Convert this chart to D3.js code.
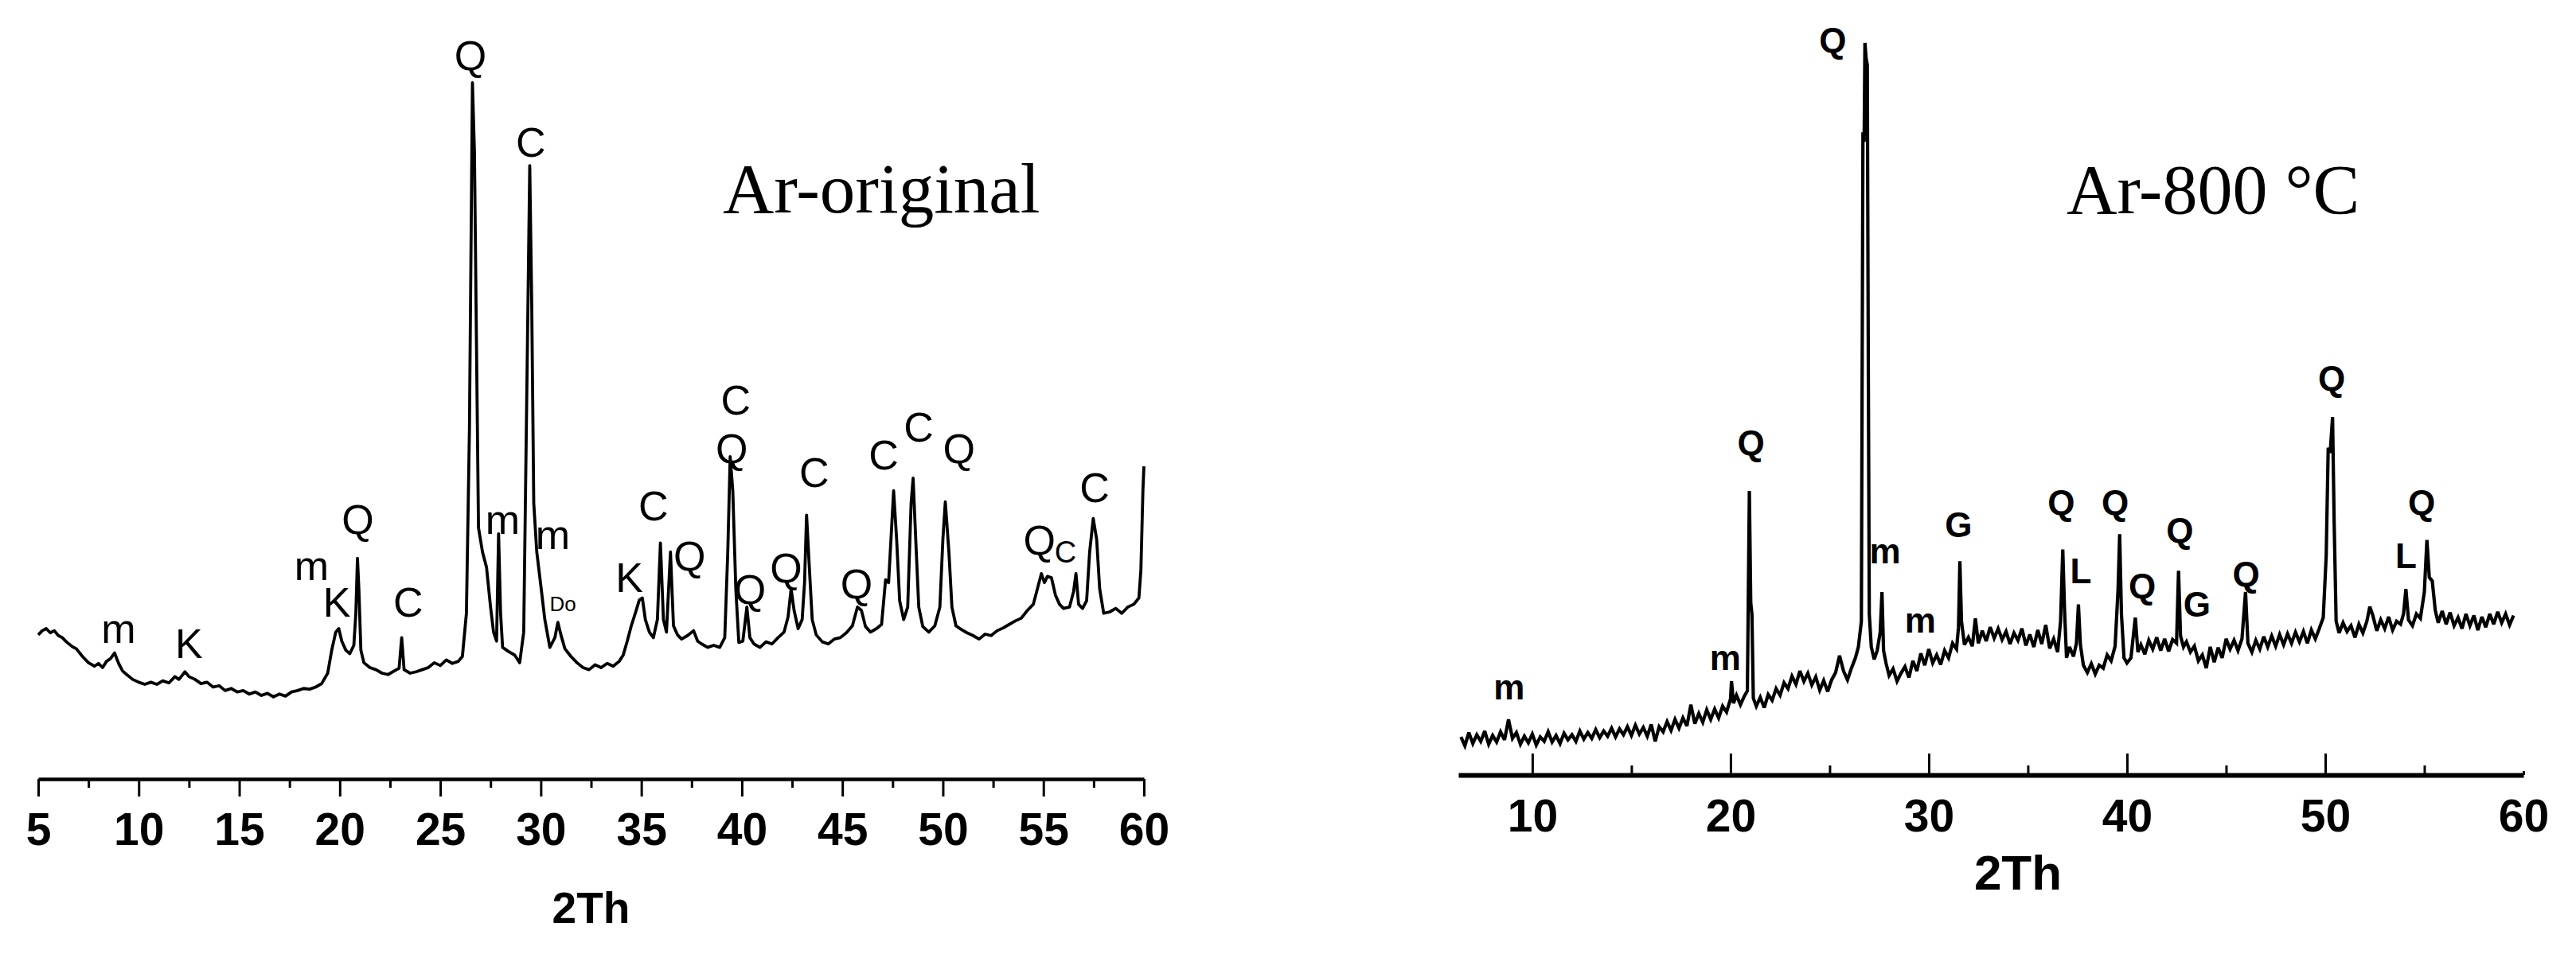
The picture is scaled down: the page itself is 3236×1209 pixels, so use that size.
<!DOCTYPE html>
<html><head><meta charset="utf-8">
<script src="https://cdn.jsdelivr.net/npm/d3@7/dist/d3.min.js"></script>
<style>html,body{margin:0;padding:0;background:#fff;}svg{display:block;}</style>
</head><body>
<script>
// ---------- DATA ----------
// Left pattern: Ar-original  [2theta, intensity (a.u., main peak = 100)]
const leftPattern = [
[5.0,20.7],[5.2,21.3],[5.4,21.6],[5.6,21.0],[5.8,21.3],[6.0,20.6],[6.2,20.3],[6.4,19.7],[6.7,19.0],[6.9,18.7],
[7.2,17.6],[7.5,16.7],[7.8,16.2],[8.0,16.6],[8.2,16.0],[8.4,16.9],[8.6,17.3],[8.8,18.1],[9.0,16.6],[9.2,15.5],
[9.4,15.0],[9.7,14.3],[10.0,13.9],[10.3,13.6],[10.6,13.9],[10.9,13.6],[11.2,14.1],[11.5,13.8],[11.8,14.7],[12.0,14.3],
[12.3,15.4],[12.5,14.7],[12.8,14.3],[13.1,13.7],[13.4,13.9],[13.7,13.2],[14.0,13.4],[14.3,12.7],[14.6,13.0],[14.9,12.5],
[15.2,12.7],[15.5,12.2],[15.8,12.5],[16.1,12.0],[16.4,12.3],[16.7,11.8],[17.0,12.2],[17.3,11.9],[17.6,12.5],[17.9,12.7],
[18.2,13.0],[18.5,12.9],[18.8,13.2],[19.1,13.7],[19.4,15.2],[19.6,18.5],[19.8,21.1],[19.95,21.6],[20.1,19.8],[20.3,18.5],
[20.5,18.0],[20.7,19.2],[20.8,23.8],[20.88,31.7],[20.95,27.3],[21.05,18.5],[21.2,16.7],[21.5,16.0],[21.8,15.7],[22.1,15.2],
[22.4,15.0],[22.7,15.5],[22.95,15.9],[23.08,20.3],[23.2,15.7],[23.5,15.2],[23.8,15.4],[24.1,15.7],[24.4,16.0],[24.7,16.7],
[25.0,16.3],[25.3,17.1],[25.6,16.6],[25.9,16.9],[26.1,17.6],[26.3,23.8],[26.45,50.2],[26.6,100],[26.7,89.9],[26.8,62.6],
[26.9,36.1],[27.1,32.6],[27.3,30.4],[27.5,24.7],[27.65,21.1],[27.8,19.8],[27.9,35.2],[28.0,23.8],[28.1,18.9],[28.4,18.3],
[28.7,17.8],[28.95,16.7],[29.15,21.1],[29.3,54.6],[29.45,88.1],[29.55,67.8],[29.65,39.6],[29.8,32.6],[30.0,27.8],[30.2,22.9],
[30.45,18.9],[30.7,20.3],[30.85,22.5],[31.0,20.7],[31.2,18.7],[31.5,17.6],[31.8,16.7],[32.1,16.0],[32.4,15.7],[32.7,16.4],
[33.0,16.0],[33.3,16.6],[33.6,16.2],[33.9,16.9],[34.1,17.8],[34.3,19.8],[34.5,22.0],[34.7,23.8],[34.9,25.7],[35.05,26.0],
[35.2,22.9],[35.4,21.1],[35.6,20.3],[35.8,22.9],[35.95,33.9],[36.1,22.9],[36.25,21.1],[36.45,32.6],[36.6,22.0],[36.8,20.7],
[37.0,20.1],[37.3,20.6],[37.6,21.3],[37.8,19.8],[38.0,19.4],[38.3,18.9],[38.6,19.2],[38.9,18.9],[39.15,20.3],[39.3,32.6],
[39.42,46.3],[39.55,41.4],[39.7,27.3],[39.85,19.6],[40.05,19.8],[40.25,24.7],[40.4,20.3],[40.6,19.4],[40.9,18.9],[41.2,19.7],
[41.5,19.4],[41.8,20.3],[42.1,21.1],[42.3,23.3],[42.45,27.3],[42.6,24.2],[42.8,21.6],[43.0,22.9],[43.12,28.2],[43.22,37.9],
[43.35,30.8],[43.5,22.9],[43.7,20.7],[44.0,19.7],[44.3,19.4],[44.6,20.1],[44.9,20.3],[45.2,21.0],[45.5,22.0],[45.75,24.7],
[45.95,24.2],[46.15,21.9],[46.4,21.1],[46.7,21.6],[46.95,22.2],[47.15,28.6],[47.3,28.2],[47.45,36.1],[47.55,41.4],[47.7,34.4],
[47.85,25.6],[48.05,22.9],[48.25,24.7],[48.42,39.6],[48.52,43.2],[48.65,34.4],[48.8,24.7],[49.0,21.9],[49.3,21.1],[49.6,22.0],
[49.85,24.7],[50.0,34.4],[50.12,39.8],[50.3,32.6],[50.45,24.7],[50.65,22.0],[50.9,21.5],[51.2,21.0],[51.5,20.6],[51.8,20.1],
[52.1,20.8],[52.4,20.6],[52.7,21.3],[53.0,21.7],[53.3,22.2],[53.6,22.7],[53.9,23.1],[54.2,24.2],[54.5,25.1],[54.7,27.3],
[54.9,29.5],[55.05,28.2],[55.2,29.1],[55.4,28.9],[55.6,26.4],[55.8,25.1],[56.0,24.5],[56.3,24.7],[56.5,26.9],[56.62,29.5],
[56.75,25.1],[56.95,24.5],[57.15,25.6],[57.3,32.6],[57.48,37.4],[57.65,34.4],[57.8,27.3],[58.0,23.8],[58.3,24.0],[58.6,24.5],
[58.9,23.8],[59.2,24.7],[59.5,25.1],[59.75,26.0],[59.85,30.0],[59.95,41.4],[60.0,44.9]
];
// Right pattern: Ar-800 °C
const rightPattern = [
[6.4,5.2],[6.6,4.0],[6.8,5.8],[7.0,4.3],[7.2,5.5],[7.4,4.6],[7.6,6.0],[7.8,4.2],[8.0,5.4],[8.2,4.5],
[8.4,5.9],[8.6,4.8],[8.8,7.6],[9.0,5.0],[9.2,5.8],[9.4,4.2],[9.6,5.3],[9.8,4.4],[10.0,5.6],[10.2,4.1],
[10.4,5.2],[10.6,4.6],[10.8,5.9],[11.0,4.5],[11.2,5.4],[11.4,4.3],[11.6,5.7],[11.8,4.8],[12.0,5.5],[12.2,4.6],
[12.4,6.0],[12.6,4.9],[12.8,5.8],[13.0,5.0],[13.2,6.2],[13.4,5.1],[13.6,6.0],[13.8,5.3],[14.0,6.4],[14.2,5.2],
[14.4,6.3],[14.6,5.5],[14.8,6.6],[15.0,5.4],[15.2,6.8],[15.4,5.6],[15.6,6.5],[15.8,5.3],[16.0,6.9],[16.2,4.6],
[16.4,6.6],[16.6,5.9],[16.8,7.3],[17.0,6.1],[17.2,7.6],[17.4,6.4],[17.6,7.8],[17.8,6.7],[18.0,9.6],[18.2,7.0],
[18.4,8.4],[18.6,7.2],[18.8,8.9],[19.0,7.6],[19.2,9.0],[19.4,7.8],[19.6,9.4],[19.8,8.6],[20.0,10.4],[20.05,12.8],
[20.15,9.8],[20.3,10.9],[20.5,9.6],[20.7,10.8],[20.85,11.5],[20.95,38.8],[21.02,23.5],[21.08,22.0],[21.15,10.5],[21.3,9.4],
[21.5,10.6],[21.7,9.2],[21.9,11.0],[22.1,10.2],[22.3,11.8],[22.5,10.9],[22.7,12.6],[22.9,11.8],[23.1,13.5],[23.3,12.4],
[23.5,14.2],[23.7,12.8],[23.9,13.9],[24.1,12.3],[24.3,13.4],[24.5,11.6],[24.7,12.9],[24.9,11.4],[25.1,13.0],[25.3,14.0],
[25.5,16.3],[25.7,14.2],[25.9,13.0],[26.1,14.6],[26.3,16.0],[26.45,17.5],[26.6,21.0],[26.68,87.8],[26.74,86.5],[26.78,100],
[26.84,97.9],[26.9,97.0],[26.95,56.0],[27.0,22.0],[27.1,17.5],[27.25,15.8],[27.4,17.0],[27.55,19.5],[27.64,25.0],[27.72,17.0],
[27.85,15.2],[28.0,13.6],[28.2,14.5],[28.4,12.8],[28.6,13.9],[28.8,14.8],[29.0,13.3],[29.2,15.6],[29.4,14.2],[29.6,16.6],
[29.8,15.0],[30.0,17.2],[30.2,15.3],[30.4,16.4],[30.6,15.1],[30.8,17.0],[31.0,16.0],[31.2,18.0],[31.4,17.2],[31.5,20.2],
[31.57,29.2],[31.65,21.0],[31.8,17.8],[32.0,18.8],[32.2,17.6],[32.35,21.4],[32.5,18.0],[32.7,19.7],[32.9,18.3],[33.1,20.2],
[33.3,18.7],[33.5,20.0],[33.7,18.5],[33.9,19.6],[34.1,17.9],[34.3,19.4],[34.5,18.4],[34.7,20.0],[34.9,17.7],[35.1,19.2],
[35.3,17.5],[35.5,19.8],[35.7,17.9],[35.9,20.5],[36.1,17.3],[36.3,18.6],[36.5,16.8],[36.65,21.0],[36.76,30.8],[36.85,22.5],
[36.95,16.0],[37.1,17.5],[37.3,16.2],[37.45,18.0],[37.55,23.3],[37.65,17.8],[37.8,15.0],[38.0,14.0],[38.2,15.2],[38.4,13.8],
[38.6,15.0],[38.8,14.6],[39.0,16.4],[39.2,15.6],[39.4,17.6],[39.55,25.4],[39.63,32.9],[39.72,22.0],[39.85,16.0],[40.0,15.3],
[40.2,16.0],[40.42,21.5],[40.55,16.8],[40.7,17.8],[40.9,16.5],[41.1,18.4],[41.3,17.2],[41.5,18.8],[41.7,17.0],[41.9,18.6],
[42.1,16.9],[42.3,18.5],[42.5,18.0],[42.6,27.9],[42.7,19.0],[42.85,17.5],[43.0,18.2],[43.2,16.8],[43.4,17.6],[43.6,15.6],
[43.8,16.4],[44.0,14.6],[44.2,17.5],[44.4,15.4],[44.6,17.4],[44.8,16.0],[45.0,18.6],[45.2,17.2],[45.4,18.4],[45.6,17.0],
[45.8,18.6],[45.98,25.0],[46.1,18.0],[46.3,16.8],[46.5,18.4],[46.7,17.2],[46.9,18.9],[47.1,17.5],[47.3,19.0],[47.5,17.6],
[47.7,19.2],[47.9,17.8],[48.1,19.3],[48.3,18.0],[48.5,19.5],[48.7,18.2],[48.9,19.6],[49.1,18.0],[49.3,19.8],[49.5,18.6],
[49.7,20.0],[49.9,21.5],[50.05,30.0],[50.15,44.7],[50.25,44.0],[50.37,48.9],[50.45,34.6],[50.55,21.0],[50.7,19.4],[50.9,20.8],
[51.1,19.6],[51.3,20.4],[51.5,18.8],[51.7,20.6],[51.9,19.4],[52.1,21.0],[52.25,23.0],[52.4,21.8],[52.6,19.7],[52.8,21.2],
[53.0,20.0],[53.2,21.6],[53.4,19.8],[53.6,21.0],[53.8,20.6],[53.95,22.0],[54.07,25.4],[54.2,21.2],[54.4,20.4],[54.6,22.0],
[54.8,21.4],[55.0,25.0],[55.13,32.1],[55.25,27.0],[55.4,26.5],[55.55,22.5],[55.7,20.8],[55.9,22.4],[56.1,20.6],[56.3,22.2],
[56.5,20.4],[56.7,21.5],[56.9,20.0],[57.1,22.0],[57.3,20.4],[57.5,21.8],[57.7,19.8],[57.9,21.6],[58.1,20.2],[58.3,22.0],
[58.5,20.6],[58.7,22.3],[58.9,20.8],[59.1,22.0],[59.3,20.5],[59.5,21.8]
];
// Phase labels [text, 2theta, intensity at text baseline]
const leftLabels = [
["m",9.0,19.6],["K",12.5,17.4],["m",18.6,28.6],["K",19.85,23.3],["Q",20.9,35.2],["C",23.4,23.3],
["Q",26.5,101.8],["C",29.5,89.4],["m",28.1,35.2],["m",30.6,33.0],["K",34.4,26.9],["C",35.6,37.2],
["Q",37.4,30.0],["C",39.7,52.4],["Q",39.5,45.4],["Q",40.4,25.1],["Q",42.2,28.2],["C",43.6,41.9],
["Q",45.7,26.0],["C",47.05,44.5],["C",48.8,48.5],["Q",50.8,45.4],["Q",54.8,32.2],["C",57.55,39.8]
];
const leftSmallLabels = [["Do",31.1,24.1],["C",56.1,31.1]];
const rightLabels = [
["m",8.83,10.3],["m",19.74,14.3],["Q",21.03,43.7],["Q",25.16,98.7],["m",27.8,28.9],["m",29.57,19.5],
["G",31.5,32.5],["Q",36.68,35.5],["L",37.67,26.2],["Q",39.4,35.5],["Q",40.77,24.1],["Q",42.67,31.7],
["G",43.53,21.6],["Q",46.01,25.8],["Q",50.33,52.5],["L",54.07,28.3],["Q",54.86,35.5]
];
const leftMajorTicks = [5,10,15,20,25,30,35,40,45,50,55,60];
const leftMinorTicks = [7.5,12.5,17.5,22.5,27.5,32.5,37.5,42.5,47.5,52.5,57.5];
const rightMajorTicks = [10,20,30,40,50,60];
const rightMinorTicks = [15,25,35,45,55];
const titles = ["Ar-original","Ar-800 \u00B0C"];
const axisTitle = "2Th";

// ---------- DRAW ----------
const W = 3236, H = 1209;
const svg = d3.select("body").append("svg").attr("width",W).attr("height",H)
  .style("background","#fff");
const SANS = "'Liberation Sans', Arial, sans-serif";
const SERIF = "'Liberation Serif', 'Times New Roman', serif";

// Left panel scales
const xL = d3.scaleLinear().domain([5,60]).range([48,1437]);
const yL = d3.scaleLinear().domain([0,100]).range([979,104]);
// Right panel scales
const xR = d3.scaleLinear().domain([6.27,60]).range([1832,3170]);
const yR = d3.scaleLinear().domain([0,100]).range([974,54]);

function styleAxis(g, fs){
  g.selectAll("line").attr("stroke","#000").attr("stroke-width",3);
  g.selectAll("text").attr("fill","#000").style("font-family",SANS)
   .style("font-weight","bold").style("font-size",fs+"px");
}

// Left axis (ticks pointing down)
const gL = svg.append("g").attr("transform",`translate(0,${yL(0)})`);
gL.call(d3.axisBottom(xL).tickValues(leftMajorTicks).tickSize(22).tickSizeOuter(0).tickFormat(d3.format("d")));
styleAxis(gL,57);
gL.select(".domain").attr("stroke","#000").attr("stroke-width",4.5);
gL.selectAll("text").attr("y",83).attr("dy",0);
const gLm = svg.append("g").attr("transform",`translate(0,${yL(0)})`);
gLm.call(d3.axisBottom(xL).tickValues(leftMinorTicks).tickSize(11).tickFormat(""));
gLm.select(".domain").remove();
styleAxis(gLm,10);

// Right axis (ticks pointing up)
const gR = svg.append("g").attr("transform",`translate(0,${yR(0)})`);
gR.call(d3.axisBottom(xR).tickValues(rightMajorTicks).tickSizeInner(-27).tickSizeOuter(0).tickFormat(d3.format("d")));
styleAxis(gR,57);
gR.select(".domain").attr("stroke","#000").attr("stroke-width",6);
gR.selectAll("text").attr("y",71).attr("dy",0);
gR.selectAll(".tick").filter(d=>d===60).select("line").attr("y2",-5);
const gRm = svg.append("g").attr("transform",`translate(0,${yR(0)})`);
gRm.call(d3.axisBottom(xR).tickValues(rightMinorTicks).tickSizeInner(-12).tickSizeOuter(0).tickFormat(""));
gRm.select(".domain").remove();
styleAxis(gRm,10);

// Axis titles
svg.append("text").attr("x",(xL(5)+xL(60))/2).attr("y",1160).attr("text-anchor","middle")
  .style("font-family",SANS).style("font-weight","bold").style("font-size","55px").text(axisTitle);
svg.append("text").attr("x",2535).attr("y",1118).attr("text-anchor","middle")
  .style("font-family",SANS).style("font-weight","bold").style("font-size","62px").text(axisTitle);

// Patterns
const lineL = d3.line().x(d=>xL(d[0])).y(d=>yL(d[1]));
const lineR = d3.line().x(d=>xR(d[0])).y(d=>yR(d[1]));
svg.append("path").datum(leftPattern).attr("d",lineL).attr("fill","none")
  .attr("stroke","#000").attr("stroke-width",3.8).attr("stroke-linejoin","round");
svg.append("path").datum(rightPattern).attr("d",lineR).attr("fill","none")
  .attr("stroke","#000").attr("stroke-width",4.2).attr("stroke-linejoin","miter").attr("stroke-miterlimit",3);

// Phase labels
svg.append("g").selectAll("text").data(leftLabels).join("text")
  .attr("x",d=>xL(d[1])).attr("y",d=>yL(d[2])).attr("text-anchor","middle")
  .style("font-family",SANS).style("font-size","52px").text(d=>d[0]);
svg.append("g").selectAll("text").data(leftSmallLabels).join("text")
  .attr("x",d=>xL(d[1])).attr("y",d=>yL(d[2])).attr("text-anchor","middle")
  .style("font-family",SANS).style("font-size",(d,i)=>i===0?"26px":"38px").text(d=>d[0]);
svg.append("g").selectAll("text").data(rightLabels).join("text")
  .attr("x",d=>xR(d[1])).attr("y",d=>yR(d[2])).attr("text-anchor","middle")
  .style("font-family",SANS).style("font-weight","bold").style("font-size","44px").text(d=>d[0]);

// Panel titles
svg.append("text").attr("x",908).attr("y",267).style("font-family",SERIF).style("font-size","89px").text(titles[0]);
svg.append("text").attr("x",2596).attr("y",268).style("font-family",SERIF).style("font-size","88px").text(titles[1]);
</script>
</body></html>
